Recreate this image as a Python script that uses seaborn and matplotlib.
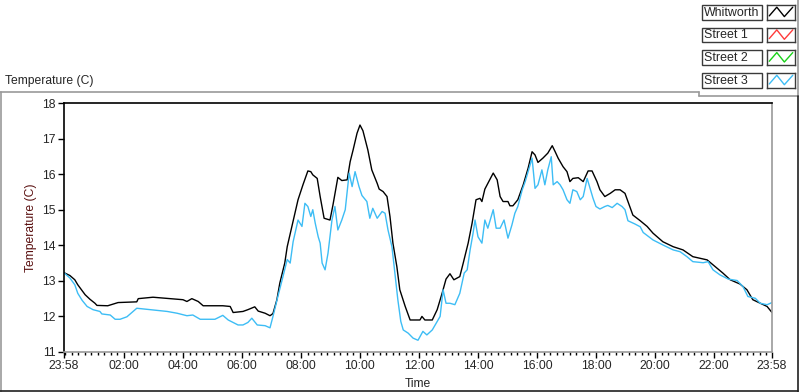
import numpy as np
import pandas as pd
import matplotlib
matplotlib.use("Agg")
import matplotlib.pyplot as plt
from matplotlib.lines import Line2D
from matplotlib.patches import Rectangle
import seaborn as sns

# readings, clock time of day (first entry is 23:58 of the previous day)
whit_time = ["23:58", "00:10", "00:20", "00:26", "00:35", "00:41", "00:51", "01:01", "01:05", "01:27",
             "01:48", "02:26", "02:29", "02:59", "03:34", "04:00", "04:08", "04:18", "04:31", "04:41",
             "05:21", "05:36", "05:42", "06:02", "06:12", "06:26", "06:33", "06:47", "06:57", "07:03",
             "07:11", "07:17", "07:27", "07:32", "07:54", "08:04", "08:14", "08:20", "08:24", "08:33",
             "08:39", "08:47", "08:59", "09:05", "09:13", "09:15", "09:23", "09:34", "09:40", "09:46",
             "09:54", "10:00", "10:06", "10:16", "10:24", "10:35", "10:39", "10:47", "10:55", "11:01",
             "11:07", "11:15", "11:21", "11:32", "11:42", "12:02", "12:06", "12:12", "12:27", "12:37",
             "12:47", "12:55", "13:03", "13:11", "13:23", "13:30", "13:40", "13:48", "13:56", "14:04",
             "14:08", "14:14", "14:20", "14:31", "14:39", "14:45", "14:51", "15:01", "15:05", "15:11",
             "15:21", "15:32", "15:42", "15:50", "15:56", "16:02", "16:12", "16:22", "16:31", "16:37",
             "16:43", "16:53", "17:01", "17:07", "17:13", "17:24", "17:34", "17:44", "17:52", "18:02",
             "18:08", "18:18", "18:29", "18:39", "18:49", "18:59", "19:05", "19:15", "19:30", "19:44",
             "19:56", "20:16", "20:37", "20:57", "21:17", "21:46", "21:58", "22:18", "22:33", "22:53",
             "23:07", "23:19", "23:34", "23:48", "23:58"]
whit_temp = [13.23, 13.15, 13.03, 12.89, 12.72, 12.61, 12.48, 12.37, 12.31, 12.30,
             12.39, 12.41, 12.50, 12.54, 12.50, 12.47, 12.42, 12.50, 12.42, 12.30,
             12.30, 12.28, 12.11, 12.14, 12.19, 12.27, 12.15, 12.09, 12.02, 12.08,
             12.47, 12.94, 13.50, 13.96, 15.28, 15.70, 16.09, 16.07, 15.98, 15.88,
             15.37, 14.76, 14.71, 15.13, 15.74, 15.91, 15.82, 15.84, 16.35, 16.68,
             17.15, 17.38, 17.22, 16.68, 16.12, 15.74, 15.58, 15.51, 15.37, 14.81,
             14.06, 13.40, 12.75, 12.28, 11.90, 11.90, 12.00, 11.90, 11.90, 12.19,
             12.65, 13.05, 13.20, 13.03, 13.12, 13.50, 14.06, 14.62, 15.28, 15.32,
             15.23, 15.58, 15.74, 16.03, 15.84, 15.37, 15.23, 15.23, 15.11, 15.11,
             15.28, 15.70, 16.17, 16.63, 16.54, 16.33, 16.45, 16.59, 16.80, 16.63,
             16.45, 16.21, 16.07, 15.79, 15.88, 15.90, 15.79, 16.09, 16.09, 15.79,
             15.56, 15.37, 15.46, 15.56, 15.56, 15.46, 15.23, 14.85, 14.69, 14.53,
             14.34, 14.10, 13.96, 13.87, 13.68, 13.59, 13.45, 13.22, 13.03, 12.91,
             12.75, 12.47, 12.37, 12.28, 12.11]

s3_time = ["23:58", "00:10", "00:20", "00:26", "00:35", "00:45", "00:57", "01:11", "01:15", "01:32",
           "01:42", "01:52", "02:06", "02:26", "02:47", "03:07", "03:28", "03:48", "04:08", "04:20",
           "04:35", "04:45", "05:05", "05:21", "05:32", "05:42", "05:52", "06:02", "06:12", "06:20",
           "06:31", "06:47", "06:57", "07:03", "07:13", "07:23", "07:32", "07:38", "07:44", "07:54",
           "08:02", "08:08", "08:14", "08:20", "08:24", "08:29", "08:35", "08:39", "08:43", "08:49",
           "08:55", "09:03", "09:09", "09:15", "09:23", "09:30", "09:38", "09:44", "09:50", "09:58",
           "10:04", "10:14", "10:20", "10:26", "10:35", "10:45", "10:51", "10:57", "11:05", "11:11",
           "11:17", "11:23", "11:28", "11:38", "11:48", "11:58", "12:08", "12:16", "12:27", "12:37",
           "12:43", "12:49", "12:55", "13:03", "13:13", "13:23", "13:32", "13:38", "13:44", "13:50",
           "13:54", "14:00", "14:08", "14:14", "14:20", "14:31", "14:37", "14:45", "14:53", "15:01",
           "15:09", "15:15", "15:21", "15:30", "15:36", "15:42", "15:50", "15:56", "16:02", "16:10",
           "16:16", "16:22", "16:29", "16:33", "16:41", "16:47", "16:53", "17:01", "17:07", "17:13",
           "17:21", "17:28", "17:34", "17:42", "17:48", "17:54", "18:00", "18:08", "18:18", "18:24",
           "18:33", "18:43", "18:53", "18:59", "19:05", "19:19", "19:30", "19:36", "19:56", "20:16",
           "20:37", "20:51", "21:05", "21:17", "21:38", "21:48", "21:58", "22:12", "22:29", "22:47",
           "22:59", "23:09", "23:24", "23:34", "23:48", "23:58"]
s3_temp = [13.23, 13.08, 12.89, 12.65, 12.45, 12.28, 12.19, 12.14, 12.07, 12.04,
           11.92, 11.92, 11.99, 12.23, 12.20, 12.17, 12.14, 12.09, 12.02, 12.04,
           11.92, 11.92, 11.92, 12.03, 11.90, 11.83, 11.76, 11.76, 11.83, 11.95,
           11.76, 11.74, 11.68, 12.00, 12.56, 13.10, 13.60, 13.50, 14.10, 14.71,
           14.53, 15.18, 15.09, 14.81, 15.00, 14.62, 14.24, 14.06, 13.50, 13.31,
           13.78, 14.71, 15.09, 14.43, 14.71, 15.00, 16.03, 15.65, 16.07, 15.65,
           15.40, 15.23, 14.76, 15.04, 14.76, 14.95, 14.90, 14.43, 13.96, 13.22,
           12.47, 11.86, 11.62, 11.53, 11.39, 11.33, 11.58, 11.48, 11.62, 11.86,
           12.00, 12.75, 12.37, 12.37, 12.33, 12.65, 13.22, 13.31, 13.87, 14.34,
           14.71, 14.24, 14.06, 14.71, 14.48, 15.00, 14.48, 14.48, 14.71, 14.20,
           14.57, 14.90, 15.09, 15.56, 15.79, 16.07, 16.45, 15.60, 15.70, 16.12,
           15.70, 16.12, 16.49, 15.70, 15.79, 15.70, 15.56, 15.28, 15.18, 15.56,
           15.51, 15.28, 15.37, 15.88, 15.60, 15.32, 15.09, 15.02, 15.09, 15.12,
           15.06, 15.18, 15.09, 15.00, 14.69, 14.60, 14.52, 14.36, 14.15, 14.01,
           13.87, 13.82, 13.68, 13.54, 13.51, 13.54, 13.31, 13.17, 13.05, 13.01,
           12.84, 12.56, 12.51, 12.37, 12.33, 12.39]

# Street 1 and Street 2 are listed in the legend but have no readings on the plot
s1_time, s1_temp = [], []
s2_time, s2_temp = [], []

series_names = ["Whitworth", "Street 1", "Street 2", "Street 3"]
series_colors = ["#000000", "#ff3b3b", "#19d219", "#3dbdf5"]
x_tick_labels = ["23:58", "02:00", "04:00", "06:00", "08:00", "10:00", "12:00",
                 "14:00", "16:00", "18:00", "20:00", "22:00", "23:58"]
y_ticks = [11, 12, 13, 14, 15, 16, 17, 18]


def stamp(labels):
    out = pd.to_datetime(["2015-06-02 " + s for s in labels])
    # the first reading belongs to the evening before
    shift = [1 if i == 0 else 0 for i in range(len(labels))]
    return out - pd.to_timedelta(shift, unit="D")


frames = []
for name, t, v in zip(series_names,
                      [whit_time, s1_time, s2_time, s3_time],
                      [whit_temp, s1_temp, s2_temp, s3_temp]):
    if len(t) == 0:
        continue
    frames.append(pd.DataFrame({"Time": stamp(t), "Temp": v, "Series": name}))
df = pd.concat(frames, ignore_index=True)

sns.set_style("white")
plt.rcParams["font.family"] = ["Liberation Sans", "DejaVu Sans"]
FS = 8.7

fig = plt.figure(figsize=(8, 3.92), dpi=100)
W, H = 800, 392
ax = fig.add_axes([64 / W, 1 - 352 / H, 708 / W, 249 / H])

palette = dict(zip(series_names, series_colors))
sns.lineplot(data=df, x="Time", y="Temp", hue="Series", hue_order=series_names,
             palette=palette, estimator=None, linewidth=1.0, legend=False, ax=ax)

t_start = stamp(["23:58"])[0]
t_end = t_start + pd.Timedelta(days=1)
ax.set_xlim(t_start, t_end)
ax.set_ylim(11, 18)

major = [t_start] + [pd.Timestamp("2015-06-02 " + s) for s in x_tick_labels[1:-1]] + [t_end]
ax.set_xticks(major)
ax.set_xticklabels(x_tick_labels)
minor = []
step = pd.Timedelta(hours=2) / 9
m = pd.Timestamp("2015-06-02 02:00")
while m - step > t_start:
    m = m - step
while m < t_end:
    minor.append(m)
    m = m + step
ax.set_xticks(minor, minor=True)
ax.set_yticks(y_ticks)

ax.tick_params(axis="both", which="major", direction="out", length=4, width=1,
               color="black", labelsize=FS, pad=2)
ax.tick_params(axis="x", which="minor", direction="out", length=2.5, width=1, color="black")
ax.tick_params(axis="x", which="both", bottom=True)
ax.tick_params(axis="y", left=True)

for side in ["left", "top"]:
    ax.spines[side].set_color("black")
    ax.spines[side].set_linewidth(1.2)
for side in ["right", "bottom"]:
    ax.spines[side].set_color("#9a9a9a")
    ax.spines[side].set_linewidth(1.2)

ax.set_xlabel("Time", fontsize=FS, labelpad=4)
ax.set_ylabel("Temperature (C)", fontsize=FS, color="#5a1010", labelpad=4)
fig.text(5 / W, 1 - 81 / H, "Temperature (C)", fontsize=FS, va="center", ha="left")

# outer panel frame
def fline(x0, y0, x1, y1, color):
    fig.add_artist(Line2D([x0 / W, x1 / W], [1 - y0 / H, 1 - y1 / H],
                          transform=fig.transFigure, color=color, lw=1.2))

fline(0, 92, 699, 92, "#9a9a9a")
fline(1, 92, 1, 392, "#9a9a9a")
fline(699, 92, 699, 96, "#9a9a9a")
fline(699, 96, 798, 96, "#9a9a9a")
fline(798, 0, 798, 96, "#9a9a9a")
fline(798, 96, 798, 392, "#202020")
fline(0, 391, 798, 391, "#202020")

# legend: name box plus line sample box for each plot
for i, (name, color) in enumerate(zip(series_names, series_colors)):
    top = 5 + i * 22.7
    fig.add_artist(Rectangle((702 / W, 1 - (top + 14.5) / H), 60 / W, 14.5 / H,
                             transform=fig.transFigure, fill=False, ec="#3a3a3a", lw=1))
    fig.text(704 / W, 1 - (top + 7.5) / H, name, fontsize=FS + 0.2, va="center", ha="left")
    lax = fig.add_axes([767 / W, 1 - (top + 14.5) / H, 28 / W, 14.5 / H])
    lax.plot([0.08, 0.35, 0.62, 0.92], [0.25, 0.85, 0.2, 0.85], color=color, lw=1)
    lax.set_xlim(0, 1)
    lax.set_ylim(0, 1)
    lax.set_xticks([])
    lax.set_yticks([])
    for sp in lax.spines.values():
        sp.set_color("#3a3a3a")
        sp.set_linewidth(1)

fig.savefig("out.png", dpi=100, facecolor="white")
